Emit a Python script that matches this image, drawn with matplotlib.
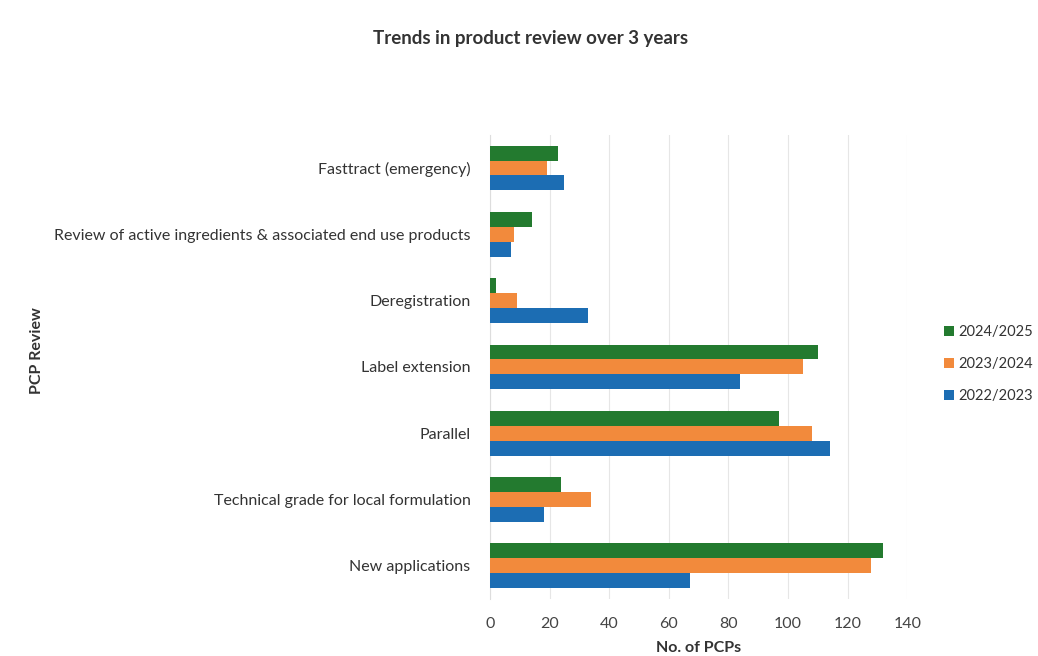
import matplotlib
matplotlib.use("Agg")
import matplotlib.pyplot as plt
import numpy as np

plt.rcParams['font.family'] = ['Lato', 'DejaVu Sans']

categories = ["Fasttract (emergency)",
              "Review of active ingredients & associated end use products",
              "Deregistration",
              "Label extension",
              "Parallel",
              "Technical grade for local formulation",
              "New applications"]
years = ["2024/2025", "2023/2024", "2022/2023"]
v_2024_2025 = [23, 14, 2, 110, 97, 24, 132]
v_2023_2024 = [19, 8, 9, 105, 108, 34, 128]
v_2022_2023 = [25, 7, 33, 84, 114, 18, 67]
colors = ["#237a2f", "#f28a3c", "#1c6db3"]
xticks = [0, 20, 40, 60, 80, 100, 120, 140]

fig = plt.figure(figsize=(10.38, 6.56), dpi=100)
ax = fig.add_axes([0.472, 0.0869, 0.402, 0.7075])

y = np.arange(len(categories))  # 0 = top
h = 0.225
series = [v_2024_2025, v_2023_2024, v_2022_2023]
offsets = [-h, 0, h]
for vals, c, off, lab in zip(series, colors, offsets, years):
    ax.barh(y + off, vals, height=h, color=c, label=lab, zorder=3)

ax.set_ylim(len(categories) - 0.5, -0.5)
ax.set_xlim(0, 140)
ax.set_xticks(xticks)
ax.set_yticks(y)
ax.set_yticklabels(categories, fontsize=11.5, color="#333333")
ax.tick_params(axis='x', labelsize=11.5, colors="#444444", length=0, pad=13)
ax.tick_params(axis='y', length=0, pad=14)
ax.grid(axis='x', color="#e6e6e6", linewidth=0.8, zorder=0)
for s in ["top", "right", "bottom"]:
    ax.spines[s].set_visible(False)
ax.spines["left"].set_color("#dddddd")

ax.set_xlabel("No. of PCPs", fontsize=11.5, fontweight='bold', color="#333333", labelpad=7)
fig.text(0.036, 0.466, "PCP Review", rotation=90, fontsize=11.5, fontweight='bold',
         color="#333333", ha='center', va='center')
fig.text(0.511, 0.942, "Trends in product review over 3 years", fontsize=13.5,
         fontweight='bold', color="#333333", ha='center', va='center')

handles, labels = ax.get_legend_handles_labels()
leg = fig.legend(handles, labels, loc='center left', bbox_to_anchor=(0.897, 0.445),
                 frameon=False, fontsize=10.5, handlelength=0.7, handleheight=0.7,
                 handletextpad=0.3, labelspacing=1.25)
for t in leg.get_texts():
    t.set_color("#333333")

fig.savefig("out.png", dpi=100)
